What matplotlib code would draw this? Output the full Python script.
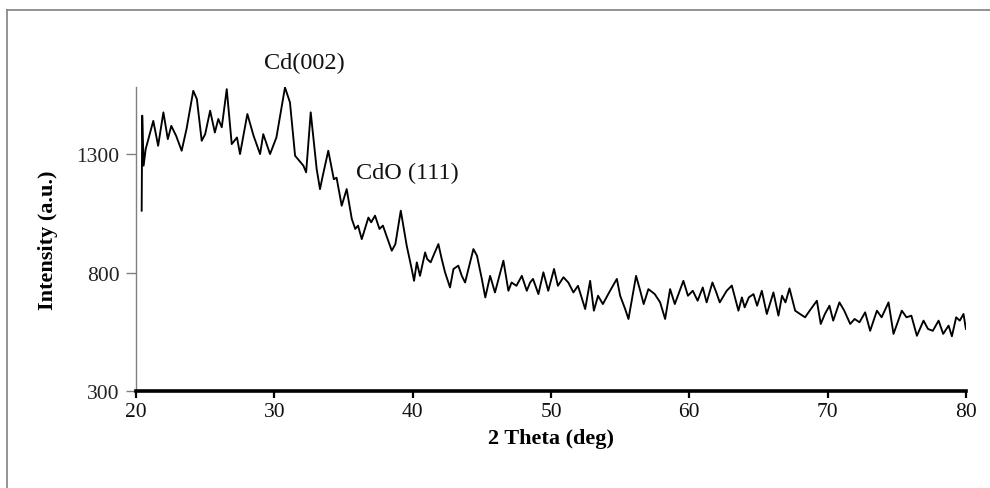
import matplotlib
matplotlib.use("Agg")
import matplotlib.pyplot as plt
from matplotlib.lines import Line2D

plt.rcParams['font.family'] = ['Liberation Serif', 'DejaVu Serif']

two_theta = [
    20.41, 20.45, 20.55, 20.7, 21.25, 21.6, 21.98, 22.3, 22.55, 22.9, 23.3, 23.65,
    24.14, 24.4, 24.75, 25.0, 25.36, 25.7, 25.95, 26.2, 26.56, 26.92, 27.3, 27.52,
    28.05, 28.5, 28.97, 29.2, 29.69, 30.15, 30.77, 31.13, 31.5, 32.1, 32.3, 32.63,
    33.06, 33.3, 33.5, 33.9, 34.3, 34.5, 34.87, 35.23, 35.6, 35.85, 36.05, 36.32,
    36.8, 37.0, 37.28, 37.6, 37.85, 38.1, 38.49, 38.75, 39.14, 39.57, 39.93, 40.1,
    40.3, 40.53, 40.9, 41.05, 41.3, 41.55, 41.86, 42.1, 42.34, 42.7, 42.95, 43.3,
    43.55, 43.79, 44.39, 44.65, 45.0, 45.25, 45.6, 45.95, 46.56, 46.92, 47.15, 47.5,
    47.89, 48.25, 48.49, 48.7, 49.09, 49.45, 49.8, 50.22, 50.5, 50.9, 51.25, 51.62,
    51.95, 52.47, 52.83, 53.1, 53.4, 53.75, 54.27, 54.76, 55.0, 55.36, 55.6, 56.15,
    56.45, 56.7, 57.04, 57.5, 57.89, 58.25, 58.61, 58.95, 59.57, 59.9, 60.25, 60.6,
    60.97, 61.25, 61.67, 61.95, 62.2, 62.7, 63.07, 63.55, 63.8, 64.0, 64.3, 64.64,
    64.9, 65.24, 65.6, 66.08, 66.44, 66.7, 66.95, 67.24, 67.65, 68.0, 68.37, 68.7,
    69.22, 69.5, 69.8, 70.13, 70.4, 70.85, 71.2, 71.63, 71.95, 72.3, 72.71, 73.07,
    73.56, 73.9, 74.4, 74.76, 75.36, 75.7, 76.05, 76.45, 76.93, 77.25, 77.6, 78.02,
    78.35, 78.74, 78.98, 79.29, 79.55, 79.82, 79.99,
]
intensity = [
    1061, 1462, 1251, 1321, 1440, 1335, 1476, 1363, 1419, 1377, 1314, 1405,
    1567, 1532, 1356, 1384, 1483, 1391, 1448, 1413, 1574, 1342, 1370, 1300,
    1469, 1377, 1300, 1384, 1300, 1370, 1581, 1518, 1293, 1251, 1223, 1476,
    1237, 1152, 1208, 1314, 1194, 1200, 1082, 1152, 1026, 984, 998, 941,
    1032, 1012, 1040, 984, 998, 956, 892, 920, 1061, 913, 815, 765,
    843, 786, 885, 857, 843, 878, 920, 857, 801, 737, 815, 829,
    786, 758, 899, 871, 773, 695, 786, 716, 850, 723, 758, 744,
    786, 723, 758, 773, 709, 801, 723, 815, 744, 780, 758, 716,
    744, 646, 765, 639, 702, 667, 723, 773, 702, 646, 604, 786,
    723, 667, 730, 709, 674, 604, 730, 667, 765, 702, 723, 681,
    737, 674, 758, 716, 674, 723, 745, 639, 695, 653, 695, 709,
    660, 723, 625, 716, 618, 702, 674, 733, 639, 625, 611, 639,
    681, 583, 625, 660, 597, 674, 639, 583, 604, 590, 632, 554,
    639, 611, 674, 541, 639, 611, 618, 533, 597, 562, 554, 597,
    541, 576, 531, 611, 597, 625, 562,
]

x_ticks = [20, 30, 40, 50, 60, 70, 80]
y_ticks = [300, 800, 1300]
peak_labels = ["Cd(002)", "CdO (111)"]
peak_label_pos = [(32.15, 1688), (39.63, 1224)]

fig = plt.figure(figsize=(9.9, 4.89), dpi=100)
ax = fig.add_axes([136/990, 97/489, 830/990, 304/489])

ax.plot(two_theta, intensity, color='black', linewidth=1.35, solid_joinstyle='round')

ax.set_xlim(20, 80)
ax.set_ylim(300, 1583)
ax.set_xticks(x_ticks)
ax.set_yticks(y_ticks)

for s in ['top', 'right']:
    ax.spines[s].set_visible(False)
ax.spines['bottom'].set_linewidth(2.6)
ax.spines['bottom'].set_color('black')
ax.spines['left'].set_linewidth(1.0)
ax.spines['left'].set_color('#808080')

ax.tick_params(axis='x', direction='out', length=5, width=1.6, color='black',
               labelsize=15.5, pad=3, labelcolor='#111111')
ax.tick_params(axis='y', direction='out', length=7, width=1.0, color='#808080',
               labelsize=15.5, pad=5, labelcolor='#222222')

ax.set_xlabel('2 Theta (deg)', fontsize=16, fontweight='bold', labelpad=5)
ax.set_ylabel('Intensity (a.u.)', fontsize=16, fontweight='bold', labelpad=13)

for lab, (px, py) in zip(peak_labels, peak_label_pos):
    ax.text(px, py, lab, fontsize=17.5, ha='center', va='center', clip_on=False,
            color='#111111')

fig.add_artist(Line2D([7/990, 7/990], [0, 1 - 11/489], color='#8a8a8a', lw=1.3))
fig.add_artist(Line2D([7/990, 1], [1 - 11/489, 1 - 11/489], color='#8a8a8a', lw=1.3))

fig.savefig('out.png', dpi=100)
